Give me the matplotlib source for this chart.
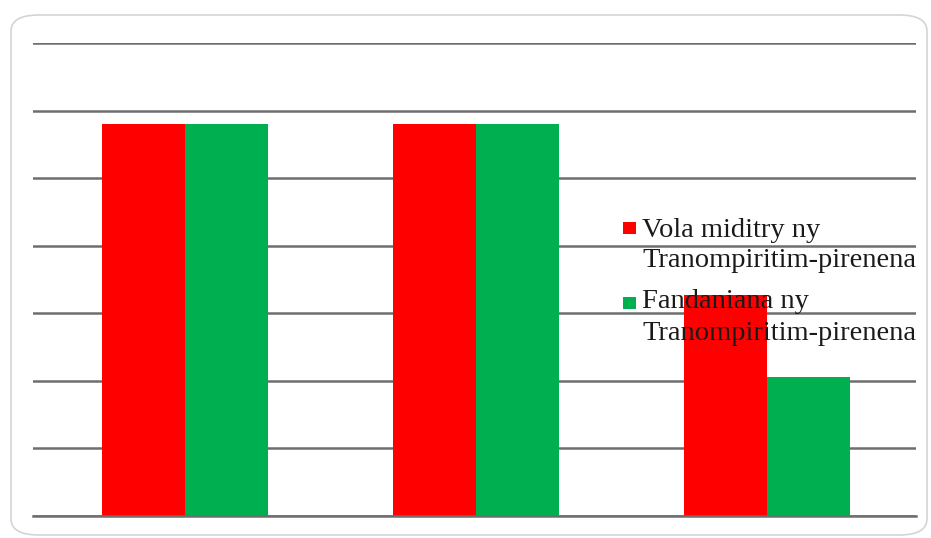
import numpy as np
import matplotlib
matplotlib.use("Agg")
import matplotlib.pyplot as plt
from matplotlib.patches import FancyBboxPatch, Rectangle

# Data
groups = ["1", "2", "3"]
vola_miditra = [5.8, 5.8, 3.27]
fandaniana = [5.8, 5.8, 2.05]
labels = ["Vola miditry ny\nTranompiritim-pirenena",
          "Fandaniana ny\nTranompiritim-pirenena"]
colors = ["#FF0000", "#00B050"]

W, H = 931, 538
fig = plt.figure(figsize=(W / 100, H / 100), dpi=100)

# rounded chart frame
frame = FancyBboxPatch((11 / W, 3 / H), 916 / W, 520 / H,
                       boxstyle="round,pad=0,rounding_size=0.03",
                       transform=fig.transFigure, facecolor="white",
                       edgecolor="#d4d4d4", linewidth=1.2, zorder=0)
fig.patches.append(frame)

ax = fig.add_axes([33 / W, 22 / H, 883 / W, 473 / H])
ax.set_zorder(2)
ax.set_facecolor("none")

x = np.arange(len(groups))
w = 0.285
ax.bar(x - w / 2, vola_miditra, w, color=colors[0], zorder=3)
ax.bar(x + w / 2, fandaniana, w, color=colors[1], zorder=3)

ax.set_xlim(-0.522, 2.512)
ax.set_ylim(0, 7)
ax.set_yticks(np.arange(0, 8, 1))
ax.grid(axis="y", color="#6e6e6e", linewidth=1.8, zorder=1)
ax.axhline(0, color="#6e6e6e", linewidth=1.8, zorder=4, clip_on=False)
ax.set_xticks([])
ax.tick_params(left=False, labelleft=False)
for s in ax.spines.values():
    s.set_visible(False)

# legend, drawn over the bars
font = dict(family="Liberation Serif", size=20.5, color="#1a1a1a")
entries = [(222, [237, 267]), (297, [308, 340])]
for (sq_top, baselines), lab, c in zip(entries, labels, colors):
    fig.patches.append(Rectangle((623 / W, 1 - (sq_top + 12) / H), 13 / W, 12 / H,
                                 transform=fig.transFigure, facecolor=c,
                                 edgecolor="none", zorder=5))
    for line, b in zip(lab.split("\n"), baselines):
        fig.text(642 / W, 1 - b / H, line, va="baseline", ha="left",
                 zorder=6, **font)

fig.savefig("out.png", dpi=100)
